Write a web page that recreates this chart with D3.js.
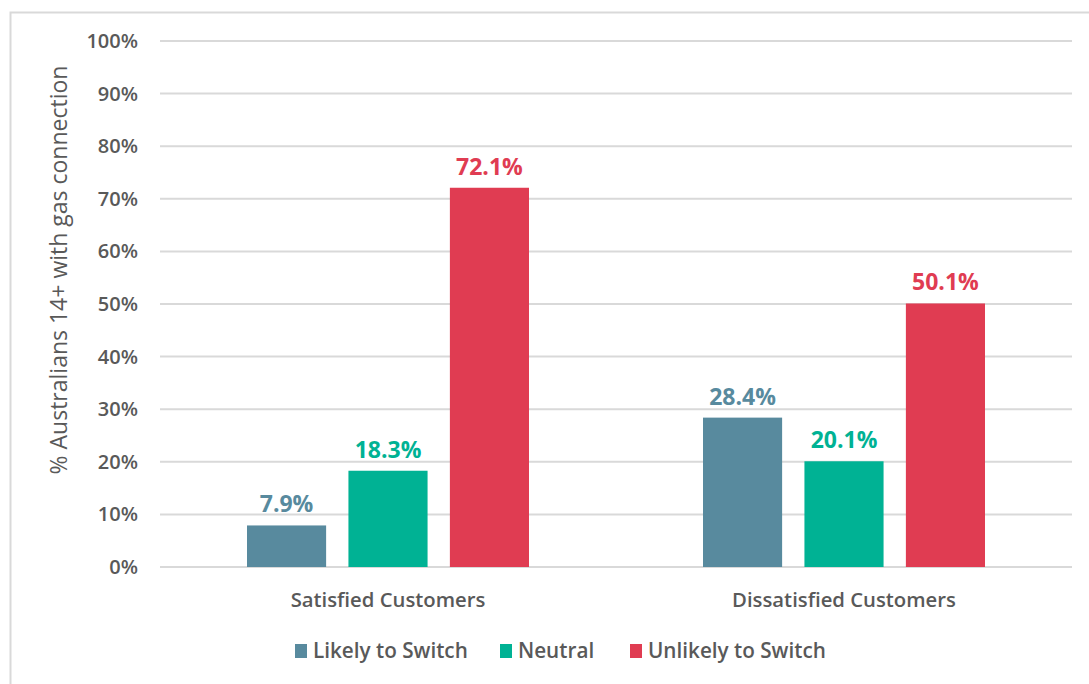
<!DOCTYPE html>
<meta charset="utf-8">
<style>
body { margin: 0; background: #fff; }
text { font-family: "Open Sans", sans-serif; }
.grid line { stroke: #d9d9d9; stroke-width: 2; }
.tick-lbl { font-size: 20px; font-weight: 600; fill: #595959; }
.cat-lbl { font-size: 20.3px; font-weight: 600; fill: #595959; }
.val-lbl { font-size: 23px; font-weight: bold; }
.leg-lbl { font-size: 20.7px; font-weight: 600; fill: #595959; }
</style>
<svg width="1089" height="684"></svg>
<script src="https://cdn.jsdelivr.net/npm/d3@7"></script>
<script>
var categories = ["Satisfied Customers", "Dissatisfied Customers"];
var seriesNames = ["Likely to Switch", "Neutral", "Unlikely to Switch"];
var seriesColors = ["#588a9e", "#00b294", "#e03c52"];
var likely = [7.9, 28.4];
var neutral = [18.3, 20.1];
var unlikely = [72.1, 50.1];
var yTicks = [0, 10, 20, 30, 40, 50, 60, 70, 80, 90, 100];

var values = [likely, neutral, unlikely];

var svg = d3.select("svg");

// chart border
svg.append("rect")
    .attr("x", 10.5).attr("y", 12.5)
    .attr("width", 1100).attr("height", 700)
    .attr("fill", "none").attr("stroke", "#d9d9d9").attr("stroke-width", 2);

var plotL = 160, plotR = 1072, plotT = 41, plotB = 567;

var y = d3.scaleLinear().domain([0, 100]).range([plotB, plotT]);
var x0 = d3.scaleBand().domain(categories).range([plotL, plotR]);
var x1 = d3.scaleBand().domain(seriesNames).range([0, 282]).paddingInner(0.22);

var grid = svg.append("g").attr("class", "grid");
grid.selectAll("line").data(yTicks).enter().append("line")
    .attr("x1", plotL).attr("x2", plotR)
    .attr("y1", function(d) { return y(d); })
    .attr("y2", function(d) { return y(d); });

svg.append("g").selectAll("text").data(yTicks).enter().append("text")
    .attr("class", "tick-lbl")
    .attr("x", 138)
    .attr("y", function(d) { return y(d); })
    .attr("dy", "0.35em")
    .attr("text-anchor", "end")
    .text(function(d) { return d + "%"; });

svg.append("text")
    .attr("transform", "translate(59,270) rotate(-90)")
    .attr("text-anchor", "middle")
    .attr("dy", "0.35em")
    .style("font-size", "23px")
    .style("fill", "#595959")
    .text("% Australians 14+ with gas connection");

var groups = svg.append("g").selectAll("g").data(categories).enter().append("g")
    .attr("transform", function(d) {
        return "translate(" + (x0(d) + x0.bandwidth() / 2 - 141) + ",0)";
    });

groups.each(function(cat, ci) {
    var g = d3.select(this);
    seriesNames.forEach(function(s, si) {
        var v = values[si][ci];
        g.append("rect")
            .attr("x", x1(s))
            .attr("y", y(v))
            .attr("width", x1.bandwidth())
            .attr("height", y(0) - y(v))
            .attr("fill", seriesColors[si]);
        g.append("text")
            .attr("class", "val-lbl")
            .attr("x", x1(s) + x1.bandwidth() / 2)
            .attr("y", y(v) - 13)
            .attr("text-anchor", "middle")
            .attr("fill", seriesColors[si])
            .text(v.toFixed(1) + "%");
    });
});

svg.append("g").selectAll("text").data(categories).enter().append("text")
    .attr("class", "cat-lbl")
    .attr("x", function(d) { return x0(d) + x0.bandwidth() / 2; })
    .attr("y", 607)
    .attr("text-anchor", "middle")
    .text(function(d) { return d; });

// legend
var legX = [295, 500, 630];
var leg = svg.append("g").selectAll("g").data(seriesNames).enter().append("g")
    .attr("transform", function(d, i) { return "translate(" + legX[i] + ",651)"; });
leg.append("rect")
    .attr("x", 0).attr("y", -7)
    .attr("width", 12).attr("height", 14)
    .attr("fill", function(d, i) { return seriesColors[i]; });
leg.append("text")
    .attr("class", "leg-lbl")
    .attr("x", 18).attr("dy", "0.35em")
    .text(function(d) { return d; });
</script>
